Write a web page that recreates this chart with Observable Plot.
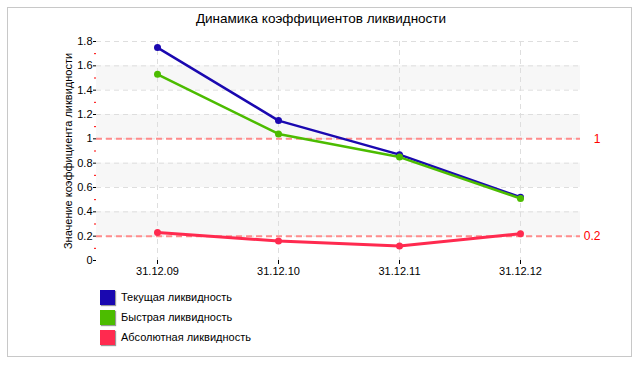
<!DOCTYPE html>
<html>
<head>
<meta charset="utf-8">
<script src="https://cdn.jsdelivr.net/npm/d3@7"></script>
<script src="https://cdn.jsdelivr.net/npm/@observablehq/plot@0.6"></script>
<style>
  html, body { margin: 0; padding: 0; background: #fff; }
  #wrap { position: relative; width: 640px; height: 365px; overflow: hidden; font-family: "Liberation Sans", Arial, sans-serif; }
  #border { position: absolute; left: 7px; top: 7px; width: 625px; height: 350px; border: 1px solid #c8c8c8; box-sizing: border-box; }
  #chart { position: absolute; left: 0; top: 0; }
  #title { position: absolute; left: 0; width: 642px; top: 11px; text-align: center; font-size: 13.5px; color: #000; }
  .leg { position: absolute; left: 100px; font-size: 11px; color: #000; height: 15px; line-height: 15px; }
  .leg span.sw { position: absolute; left: 0; top: 0; width: 15px; height: 15px; box-shadow: 1px 1px 1px #999; }
  .leg span.tx { position: absolute; left: 21px; top: 0; white-space: nowrap; }
</style>
</head>
<body>
<div id="wrap">
  <div id="border"></div>
  <div id="chart"></div>
  <div id="title"></div>
  <div id="legend"></div>
</div>
<script>
const titleText = "Динамика коэффициентов ликвидности";
const yLabel = "Значение коэффициента ликвидности";
const dates = ["31.12.09", "31.12.10", "31.12.11", "31.12.12"];
const current = [1.75, 1.15, 0.87, 0.52];
const quick = [1.53, 1.04, 0.85, 0.51];
const absolute = [0.23, 0.16, 0.12, 0.22];
const seriesNames = ["Текущая ликвидность", "Быстрая ликвидность", "Абсолютная ликвидность"];
const seriesColors = ["#1a08b0", "#4cbc00", "#ff2a4f"];
const seriesWidths = [2.5, 2.5, 3];
const yTicks = [0, 0.2, 0.4, 0.6, 0.8, 1, 1.2, 1.4, 1.6, 1.8];
const yMinorTicks = [0.1, 0.3, 0.5, 0.7, 0.9, 1.1, 1.3, 1.5, 1.7];
const refLines = [1, 0.2];
const bands = [[0.2, 0.4], [0.6, 0.8], [1.0, 1.2], [1.4, 1.6]];

const seriesValues = [current, quick, absolute];
const data = seriesValues.flatMap((vals, i) =>
  vals.map((v, j) => ({series: seriesNames[i], date: dates[j], value: v}))
);

const fmt = d => String(+d.toFixed(1));

const lineMarks = seriesNames.flatMap((name, i) => [
  Plot.line(data.filter(d => d.series === name), {x: "date", y: "value", stroke: "series", strokeWidth: seriesWidths[i]}),
  Plot.dot(data.filter(d => d.series === name), {x: "date", y: "value", fill: "series", r: 3.5})
]);

const chart = Plot.plot({
  width: 640,
  height: 365,
  marginLeft: 96,
  marginRight: 60,
  marginTop: 41,
  marginBottom: 105,
  style: {fontFamily: "'Liberation Sans', Arial, sans-serif", fontSize: "11px", color: "#000", background: "transparent"},
  x: {type: "point", domain: dates, padding: 0.5},
  y: {domain: [0, 1.8]},
  color: {domain: seriesNames, range: seriesColors},
  marks: [
    Plot.rect(bands, {y1: d => d[0], y2: d => d[1], fill: "#f7f7f7"}),
    Plot.ruleY(yTicks.filter(d => d > 0), {stroke: "#dedede", strokeDasharray: "5,4"}),
    Plot.ruleX(dates, {stroke: "#dedede", strokeDasharray: "5,4"}),
    Plot.ruleY(refLines, {stroke: "#ff8c8c", strokeWidth: 2, strokeDasharray: "6,4"}),
    Plot.text(refLines, {y: d => d, text: d => fmt(d), frameAnchor: "right", dx: 20, textAnchor: "end", fill: "#ff0000", fontSize: 12}),
    Plot.axisY({ticks: yMinorTicks, tickFormat: () => "", tickSize: 2, stroke: "#ff0000", label: null}),
    Plot.axisY({ticks: yTicks, tickFormat: fmt, tickSize: 3, tickPadding: 1, line: true, label: null, fontSize: 11}),
    Plot.axisX({tickSize: 4, tickPadding: 3, line: true, label: null, fontSize: 11}),
    Plot.text([yLabel], {frameAnchor: "left", dx: -28, rotate: -90, textAnchor: "middle", text: d => d, fontSize: 11}),
    ...lineMarks
  ]
});
document.getElementById("chart").appendChild(chart);
document.getElementById("title").textContent = titleText;

const legend = document.getElementById("legend");
seriesNames.forEach((name, i) => {
  const row = document.createElement("div");
  row.className = "leg";
  row.style.top = (290 + i * 20) + "px";
  const sw = document.createElement("span");
  sw.className = "sw";
  sw.style.background = seriesColors[i];
  const tx = document.createElement("span");
  tx.className = "tx";
  tx.textContent = name;
  row.appendChild(sw);
  row.appendChild(tx);
  legend.appendChild(row);
});
</script>
</body>
</html>
